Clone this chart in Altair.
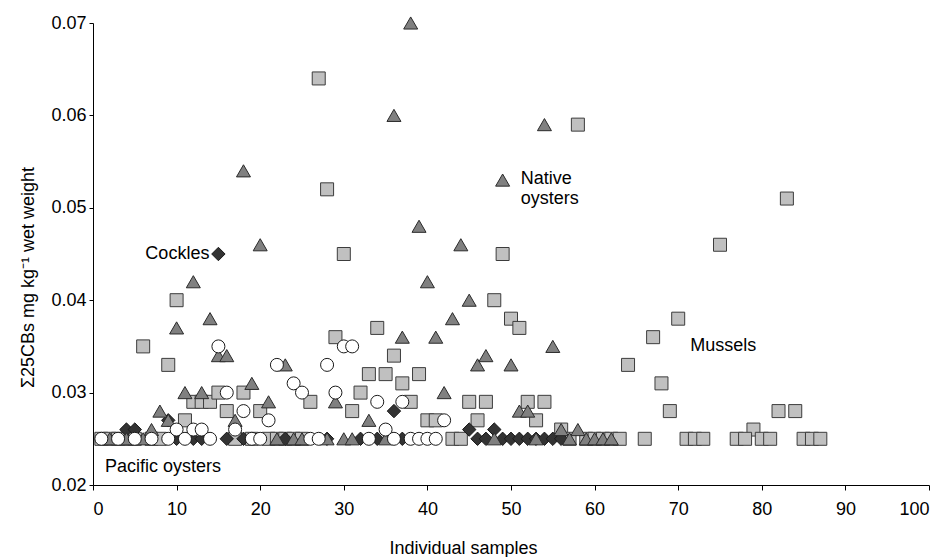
import altair as alt
import pandas as pd

# Mussels (light grey squares)
mussel_x = [6, 9, 10, 11, 12, 13, 14, 15, 16, 18, 20, 26, 27, 28, 29, 30, 31, 32, 33, 34, 35, 36,
            37, 38, 39, 40, 41, 45, 46, 47, 48, 49, 50, 51, 52, 53, 54, 56, 58, 64, 67, 68, 69, 70,
            75, 79, 82, 83, 84,
            1, 2, 3, 4, 5, 7, 8, 17, 19, 21, 22, 23, 24, 25, 43, 44, 57, 59, 60, 61, 62, 63, 66,
            71, 72, 73, 77, 78, 80, 81, 85, 86, 87]
mussel_y = [0.035, 0.033, 0.040, 0.027, 0.029, 0.029, 0.029, 0.030, 0.028, 0.030, 0.028, 0.029,
            0.064, 0.052, 0.036, 0.045, 0.028, 0.030, 0.032, 0.037, 0.032, 0.034, 0.031, 0.029,
            0.032, 0.027, 0.027, 0.029, 0.027, 0.029, 0.040, 0.045, 0.038, 0.037, 0.029, 0.027,
            0.029, 0.026, 0.059, 0.033, 0.036, 0.031, 0.028, 0.038, 0.046, 0.026, 0.028, 0.051,
            0.028,
            0.025, 0.025, 0.025, 0.025, 0.025, 0.025, 0.025, 0.025, 0.025, 0.025, 0.025, 0.025,
            0.025, 0.025, 0.025, 0.025, 0.025, 0.025, 0.025, 0.025, 0.025, 0.025, 0.025, 0.025,
            0.025, 0.025, 0.025, 0.025, 0.025, 0.025, 0.025, 0.025, 0.025]

# Native oysters (dark grey triangles)
native_x = [7, 8, 9, 10, 11, 12, 13, 14, 15, 16, 17, 18, 19, 20, 21, 23, 29, 33, 36, 37, 38, 39,
            40, 41, 42, 43, 44, 45, 46, 47, 49, 50, 51, 52, 54, 55, 56, 58,
            2, 4, 6, 22, 24, 25, 28, 30, 31, 35, 48, 53, 57, 59, 60, 61, 62]
native_y = [0.026, 0.028, 0.027, 0.037, 0.030, 0.042, 0.030, 0.038, 0.034, 0.034, 0.027, 0.054,
            0.031, 0.046, 0.029, 0.033, 0.029, 0.027, 0.060, 0.036, 0.070, 0.048, 0.042, 0.036,
            0.030, 0.038, 0.046, 0.040, 0.033, 0.034, 0.053, 0.033, 0.028, 0.028, 0.059, 0.035,
            0.026, 0.026,
            0.025, 0.025, 0.025, 0.025, 0.025, 0.025, 0.025, 0.025, 0.025, 0.025, 0.025, 0.025,
            0.025, 0.025, 0.025, 0.025, 0.025]

# Cockles (black diamonds)
cockle_x = [4, 5, 9, 10, 12, 13, 15, 16, 18, 23, 28, 32, 34, 36, 37, 45, 46, 47, 48, 49, 50,
            51, 52, 53, 54, 55, 56]
cockle_y = [0.026, 0.026, 0.027, 0.025, 0.025, 0.025, 0.045, 0.025, 0.025, 0.025, 0.025, 0.025,
            0.025, 0.028, 0.025, 0.026, 0.025, 0.025, 0.026, 0.025, 0.025, 0.025, 0.025, 0.025,
            0.025, 0.025, 0.025]

# Pacific oysters (open circles)
pacific_x = [1, 3, 5, 7, 9, 10, 11, 12, 13, 14, 15, 16, 17, 18, 19, 20, 21, 22, 24, 25, 26, 27,
             28, 29, 30, 31, 33, 34, 35, 36, 37, 38, 39, 40, 41, 42]
pacific_y = [0.025, 0.025, 0.025, 0.025, 0.025, 0.026, 0.025, 0.026, 0.026, 0.025, 0.035, 0.030,
             0.026, 0.028, 0.025, 0.025, 0.027, 0.033, 0.031, 0.030, 0.025, 0.025, 0.033, 0.030,
             0.035, 0.035, 0.025, 0.029, 0.026, 0.025, 0.029, 0.025, 0.025, 0.025, 0.025, 0.027]

FONT = "Liberation Sans"

x_scale = alt.Scale(domain=[0, 100], nice=False, zero=False)
y_scale = alt.Scale(domain=[0.02, 0.07], nice=False, zero=False)

x_enc = alt.X(
    "x:Q", scale=x_scale,
    axis=alt.Axis(
        title="Individual samples", values=list(range(0, 101, 10)), format="d",
        tickSize=5, labelPadding=10, titleX=370, titleY=63, titleBaseline="middle",
        titleAlign="center",
    ),
)
y_enc = alt.Y(
    "y:Q", scale=y_scale,
    axis=alt.Axis(
        title="Σ25CBs mg kg⁻¹ wet weight", values=[0.02, 0.03, 0.04, 0.05, 0.06, 0.07],
        format=".2f", tickSize=4, labelPadding=3, titleX=-65, titleY=254,
        titleAngle=270, titleAlign="center", titleBaseline="middle",
    ),
)


def series(xs, ys, shape, fill, stroke, size):
    df = pd.DataFrame({"x": xs, "y": ys})
    return alt.Chart(df).mark_point(
        shape=shape, filled=True, fill=fill, stroke=stroke, strokeWidth=1,
        size=size, opacity=1,
    ).encode(x=x_enc, y=y_enc)


mussels = series(mussel_x, mussel_y, "square", "#c0c0c0", "#3c3c3c", 169)
cockles = series(cockle_x, cockle_y, "diamond", "#333333", "#1a1a1a", 180)
natives = series(native_x, native_y, "triangle-up", "#808080", "#2a2a2a", 196)
pacific = series(pacific_x, pacific_y, "circle", "#ffffff", "#1a1a1a", 169)

# Species labels placed beside the points they name
label_text = ["Cockles", "Native", "oysters", "Mussels", "Pacific  oysters"]
label_x = [15, 49, 49, 70, 0]
label_y = [0.045, 0.053, 0.053, 0.035, 0.0219]
label_align = ["right", "left", "left", "left", "left"]
label_dx = [-9, 18, 18, 12, 12]
label_dy = [0, -1, 19, 0, 0]

labels = []
for t, lx, ly, al, ddx, ddy in zip(label_text, label_x, label_y, label_align, label_dx, label_dy):
    labels.append(
        alt.Chart(pd.DataFrame({"x": [lx], "y": [ly], "t": [t]}))
        .mark_text(align=al, baseline="middle", dx=ddx, dy=ddy, font=FONT, fontSize=18,
                   color="#000000")
        .encode(x=alt.X("x:Q", scale=x_scale), y=alt.Y("y:Q", scale=y_scale), text="t:N")
    )

chart = (
    alt.layer(mussels, cockles, natives, pacific, *labels)
    .properties(
        width=836, height=462,
        padding={"left": 93, "top": 23, "right": 21, "bottom": 72},
        autosize="none", background="white",
    )
    .configure_view(stroke=None)
    .configure_axis(
        grid=False, domainColor="#000000", tickColor="#000000", labelColor="#000000",
        titleColor="#000000", labelFont=FONT, titleFont=FONT, labelFontSize=18,
        titleFontSize=18, titleFontWeight="normal", domainWidth=1, tickWidth=1,
    )
)

chart.save("out.html", embed_options={"renderer": "svg", "actions": False})
